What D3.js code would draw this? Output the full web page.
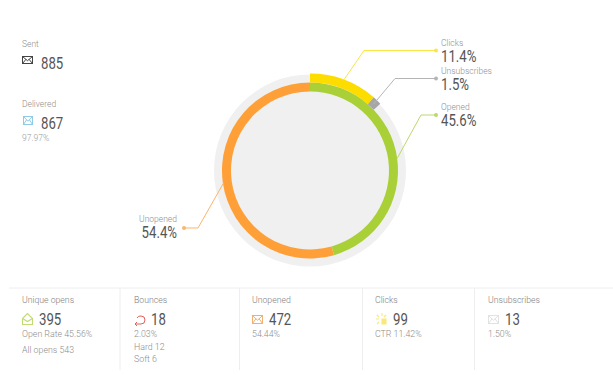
<!DOCTYPE html>
<html>
<head>
<meta charset="utf-8">
<script src="https://cdn.jsdelivr.net/npm/d3@7"></script>
<style>
html, body { margin: 0; padding: 0; background: #fff; }
svg { display: block; }
text { font-family: Roboto, sans-serif; font-weight: 300; }
text.big { font-weight: 400; }
</style>
</head>
<body>
<svg id="chart" width="613" height="375"></svg>
<script>
// share of mails
const ringNames = ["Opened", "Unopened"];
const ringValues = [45.6, 54.4];
const ringColors = ["#a9d037", "#ff9f37"];

const outerNames = ["Clicks", "Unsubscribes"];
const outerValues = [11.4, 1.5];
const outerColors = ["#fddc00", "#a6a6a6"];

const statTitles = ["Unique opens", "Bounces", "Unopened", "Clicks", "Unsubscribes"];
const statValues = ["395", "18", "472", "99", "13"];
const statNotes = [
    ["Open Rate 45.56%", "All opens 543"],
    ["2.03%", "Hard 12", "Soft 6"],
    ["54.44%"],
    ["CTR 11.42%"],
    ["1.50%"]
];

const svg = d3.select("#chart");
const cx = 310, cy = 170.5;

// percent -> angle, 0 at twelve o'clock
const angle = d3.scaleLinear().domain([0, 100]).range([0, 2 * Math.PI]);

svg.append("circle").attr("cx", cx).attr("cy", cy).attr("r", 96).attr("fill", "#f0f0f0");

const g = svg.append("g").attr("transform", `translate(${cx},${cy})`);
const ringArc = d3.arc().innerRadius(79).outerRadius(88);
const outerArc = d3.arc().innerRadius(88).outerRadius(97);

function stack(values) {
    let sum = 0;
    return values.map(v => { let s = sum; sum += v; return {start: s, end: sum, mid: s + v / 2}; });
}
const ring = stack(ringValues);
const outer = stack(outerValues);

g.selectAll(".ring").data(ring).enter().append("path")
    .attr("d", d => ringArc({startAngle: angle(d.start), endAngle: angle(d.end)}))
    .attr("fill", (d, i) => ringColors[i]);

g.selectAll(".outer").data(outer).enter().append("path")
    .attr("d", d => outerArc({startAngle: angle(d.start), endAngle: angle(d.end)}))
    .attr("fill", (d, i) => outerColors[i]);

// Roboto is wider than the original numbers, so squeeze them
function bigText(x, y, str, anchor) {
    let t = svg.append("text").attr("class", "big")
        .attr("x", x).attr("y", y)
        .attr("text-anchor", anchor || "start")
        .attr("font-size", 16.5).attr("fill", "#555").text(str);
    t.attr("textLength", t.node().getComputedTextLength() * 0.8)
        .attr("lengthAdjust", "spacingAndGlyphs");
    return t;
}

// leader lines + labels
const labels = [
    {name: outerNames[0], value: outerValues[0], mid: outer[0].mid, color: "#fbe44a", r: 97, kneeX: 364, y: 50.5, endX: 436},
    {name: outerNames[1], value: outerValues[1], mid: outer[1].mid, color: "#b5b5b5", r: 92, kneeX: 395, y: 78.5, endX: 436},
    {name: ringNames[0], value: ringValues[0], mid: ring[0].mid, color: "#bcd96a", r: 88, kneeX: 421, y: 115, endX: 436},
    {name: ringNames[1], value: ringValues[1], mid: ring[1].mid, color: "#fbb56c", r: 87, kneeX: 198, y: 228, endX: 184}
];

const line = d3.line();
labels.forEach(d => {
    let a = angle(d.mid);
    let sx = cx + d.r * Math.sin(a), sy = cy - d.r * Math.cos(a);
    svg.append("path")
        .attr("d", line([[sx, sy], [d.kneeX, d.y], [d.endX, d.y]]))
        .attr("fill", "none").attr("stroke", d.color).attr("stroke-width", 1);
    svg.append("circle").attr("cx", d.endX).attr("cy", d.y).attr("r", 2).attr("fill", d.color);

    let left = d.endX < cx;
    let tx = left ? 177 : 441;
    svg.append("text").attr("x", tx).attr("y", d.y - (left ? 6 : 5))
        .attr("text-anchor", left ? "end" : "start")
        .attr("font-size", 8.5).attr("fill", "#8e8e8e").text(d.name);
    bigText(tx, d.y + (left ? 10 : 11), d.value + "%", left ? "end" : "start");
});

// small mail icon used by the stats
function mailIcon(x, y, w, h, color) {
    let ic = svg.append("g").attr("transform", `translate(${x},${y})`)
        .attr("fill", "none").attr("stroke", color).attr("stroke-width", 1);
    ic.append("rect").attr("x", 0).attr("y", 0).attr("width", w).attr("height", h);
    ic.append("path").attr("d", line([[0, 0], [w / 2, h * 0.6], [w, 0]]));
    ic.append("path").attr("d", line([[0, h], [w * 0.35, h * 0.4]]));
    ic.append("path").attr("d", line([[w, h], [w * 0.65, h * 0.4]]));
    return ic;
}

// top left stats
svg.append("text").attr("x", 22).attr("y", 47).attr("font-size", 8.5).attr("fill", "#8e8e8e").text("Sent");
mailIcon(22.5, 56.5, 10, 7, "#444");
bigText(41, 69, "885");

svg.append("text").attr("x", 22).attr("y", 107).attr("font-size", 8.5).attr("fill", "#8e8e8e").text("Delivered");
mailIcon(23.5, 116.5, 9, 8, "#8fcbe6");
bigText(41, 129, "867");
svg.append("text").attr("x", 22).attr("y", 141).attr("font-size", 8.5).attr("fill", "#999").text("97.97%");

// bottom row
svg.append("line").attr("x1", 9).attr("x2", 613).attr("y1", 288).attr("y2", 288).attr("stroke", "#eeeeee");

const colX = [22, 134, 252, 375, 488];
const valueX = [39, 151, 269, 393, 505];
const dividers = [120, 239.5, 362.5, 474.5];

svg.selectAll(".divider").data(dividers).enter().append("line")
    .attr("x1", d => d).attr("x2", d => d)
    .attr("y1", 288).attr("y2", 370)
    .attr("stroke", "#eeeeee");

statTitles.forEach((t, i) => {
    svg.append("text").attr("x", colX[i]).attr("y", 303).attr("font-size", 8.7).attr("fill", "#7e7e7e").text(t);
    bigText(valueX[i], 325, statValues[i]);
    statNotes[i].forEach((n, j) => {
        let step = i === 0 ? 16 : 12.5;
        svg.append("text").attr("x", colX[i]).attr("y", 337 + j * step)
            .attr("font-size", 8.8).attr("fill", "#8e8e8e").text(n);
    });
});

// bottom icons
let openIc = svg.append("g").attr("transform", "translate(22.5,313.5)")
    .attr("fill", "none").attr("stroke", "#c3da74").attr("stroke-width", 1.1);
openIc.append("path").attr("d", line([[0, 5], [5, 0], [10, 5], [10, 11], [0, 11], [0, 5]]));
openIc.append("path").attr("d", line([[0, 5], [5, 8], [10, 5]]));

let bounceIc = svg.append("g").attr("transform", "translate(134,315)")
    .attr("fill", "none").attr("stroke", "#e0605a").attr("stroke-width", 1);
bounceIc.append("path").attr("d", "M3,3 A4,4 0 0 1 7,1 A4,4 0 0 1 7,9 L1,9 M3,7 L1,9 L3,11");

mailIcon(252.5, 315.5, 10, 8, "#f0b070");

let clickIc = svg.append("g").attr("transform", "translate(377,314)")
    .attr("stroke", "#f8e97a").attr("stroke-width", 1.1);
clickIc.append("path").attr("d", "M5,5 L5,10 L9,10 L9,5 Z").attr("fill", "#f8e97a");
clickIc.append("path").attr("d", "M0,1 L2,3 M5,-1 L5,2 M9,1 L7,3 M-1,5 L2,5 M0,10 L2,8");

mailIcon(488.5, 315.5, 10, 8, "#e2e2e2");
</script>
</body>
</html>
